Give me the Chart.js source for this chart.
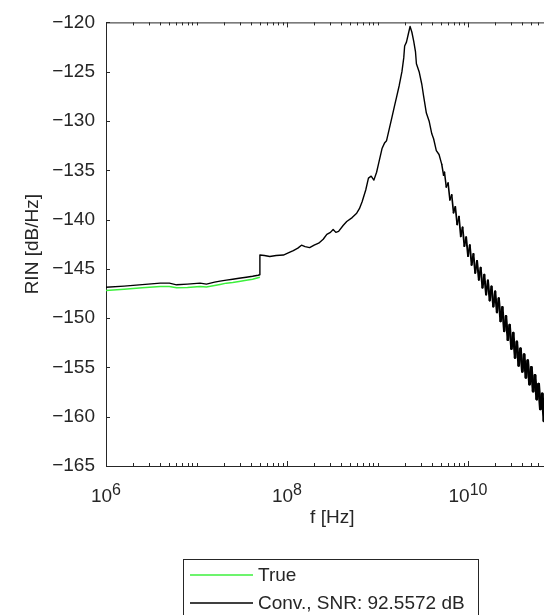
<!DOCTYPE html>
<html>
<head>
<meta charset="utf-8">
<script src="https://cdn.jsdelivr.net/npm/chart.js@4.4.1/dist/chart.umd.min.js"></script>
<style>
  html, body { margin:0; padding:0; background:#fff; overflow:hidden; }
  #wrap { width:600px; height:615px; }
</style>
</head>
<body>
<div id="wrap"><canvas id="rin" width="600" height="615"></canvas></div>
<script>
// frequency given as log10(f / Hz), RIN in dB/Hz
const trueLogF = [6.00, 6.20, 6.40, 6.60, 6.70, 6.78, 6.90, 7.04, 7.11, 7.20, 7.26, 7.33, 7.40, 7.47, 7.55, 7.62, 7.68, 7.70];
const trueRin  = [-147.2, -147.08, -146.92, -146.78, -146.78, -146.92, -146.88, -146.78, -146.85, -146.68, -146.58, -146.45, -146.38, -146.28, -146.15, -146.05, -145.9, -145.85];

const convLogF = [
  6.00, 6.20, 6.40, 6.60, 6.70, 6.78, 6.90, 7.04, 7.11, 7.20, 7.26, 7.33, 7.40, 7.47, 7.55, 7.62, 7.68, 7.70,
  7.7005, 7.75, 7.81, 7.88, 7.96, 8.02, 8.07, 8.12, 8.16, 8.20, 8.25, 8.30, 8.35, 8.40, 8.44, 8.48, 8.51, 8.54,
  8.57, 8.62, 8.66, 8.72, 8.77, 8.80, 8.83, 8.87, 8.90, 8.93, 8.96, 8.99, 9.01, 9.05, 9.08, 9.10, 9.13, 9.16,
  9.19, 9.21, 9.24, 9.27, 9.29, 9.30, 9.32, 9.34, 9.36, 9.38, 9.40, 9.42, 9.43, 9.46, 9.49, 9.51, 9.54, 9.57,
  9.60, 9.62, 9.65, 9.68, 9.71, 9.73,
  9.74, 9.76, 9.78, 9.80, 9.82, 9.84, 9.86, 9.88, 9.90, 9.92, 9.94, 9.96, 9.98, 10.00, 10.02, 10.04, 10.06,
  10.08, 10.10, 10.12, 10.14, 10.16, 10.18, 10.20, 10.22, 10.24, 10.26, 10.28, 10.30, 10.32, 10.34, 10.36,
  10.38, 10.40, 10.42, 10.44, 10.46, 10.48, 10.50, 10.52, 10.54, 10.56, 10.58, 10.60, 10.62, 10.64, 10.66,
  10.68, 10.70, 10.72, 10.74, 10.76, 10.78, 10.80, 10.82, 10.84, 10.86, 10.88, 10.90
];
const convRin = [
  -146.86, -146.75, -146.6, -146.45, -146.45, -146.62, -146.55, -146.45, -146.55, -146.35, -146.25, -146.15, -146.05, -145.95, -145.85, -145.75, -145.65, -145.6,
  -143.6, -143.65, -143.75, -143.65, -143.6, -143.35, -143.15, -142.9, -142.6, -142.75, -142.85, -142.6, -142.4, -142.0, -141.5, -141.3, -141.0, -141.3,
  -141.2, -140.6, -140.2, -139.8, -139.35, -138.9, -138.2, -137.0, -135.8, -135.6, -136.0, -135.2, -134.4, -132.8, -132.2, -132.0, -130.8, -129.6,
  -128.4, -127.6, -126.4, -125.0, -123.6, -122.4, -122.0, -121.2, -120.4, -121.0, -121.9, -123.0, -124.2, -125.0, -126.3, -127.5, -129.2, -130.0,
  -131.3, -131.8, -133.0, -133.4, -134.4, -135.5,
  -135.2, -136.7, -136.3, -138.0, -137.5, -139.3, -138.7, -140.5, -139.7, -141.7, -140.8, -142.7, -141.8, -143.7, -142.6, -144.6, -143.5,
  -145.4, -144.2, -146.1, -144.9, -146.9, -145.6, -147.6, -146.2, -148.2, -146.8, -148.8, -147.3, -149.4, -148.0, -150.3,
  -148.9, -151.3, -149.8, -152.2, -150.7, -153.1, -151.5, -154.0, -152.4, -154.8, -153.1, -155.4, -153.7, -156.0, -154.3,
  -156.7, -155.0, -157.4, -155.8, -158.2, -156.7, -159.2, -157.7, -160.4, -158.8, -161.4, -160.0
];

const yTicks = [-165, -160, -155, -150, -145, -140, -135, -130, -125, -120];
const xLabelExps = [6, 8, 10];
const seriesNames = ['True', 'Conv., SNR: 92.5572 dB'];

const AXIS = '#262626';
const FONT = '"Liberation Sans", Arial, Helvetica, sans-serif';
const GREEN = '#3cf03c';

const toPts = (lf, v) => lf.map((e, i) => ({ x: Math.pow(10, e), y: v[i] }));

// the noisy tail gets a wider pen the further right it goes
function tailWidth(c) {
  const e = Math.log10(c.p0.parsed.x);
  if (e < 9.7) return 1.4;
  return Math.min(3, 1.5 + (e - 9.7) * 1.3);
}

const decor = {
  id: 'decor',
  afterDraw(chart) {
    const { ctx, chartArea: a, scales: { x, y } } = chart;
    ctx.save();
    ctx.strokeStyle = AXIS; ctx.lineWidth = 1;
    ctx.beginPath();
    // box: top and right edges
    ctx.moveTo(a.left, a.top + 0.5); ctx.lineTo(a.right, a.top + 0.5);
    ctx.moveTo(a.right - 0.5, a.top); ctx.lineTo(a.right - 0.5, a.bottom);
    // inner x ticks, top and bottom
    for (let d = 6; d <= 11; d++) {
      for (let k = 1; k <= 9; k++) {
        const v = k * Math.pow(10, d);
        if (v > x.max) break;
        const px = Math.round(x.getPixelForValue(v)) + 0.5;
        const len = (k === 1 && xLabelExps.includes(d)) ? 5 : 3;
        ctx.moveTo(px, a.bottom); ctx.lineTo(px, a.bottom - len);
        ctx.moveTo(px, a.top); ctx.lineTo(px, a.top + len);
      }
    }
    // inner y ticks
    yTicks.forEach(v => {
      const py = Math.round(y.getPixelForValue(v)) + 0.5;
      ctx.moveTo(a.left, py); ctx.lineTo(a.left + 4, py);
    });
    ctx.stroke();

    // x tick labels 10^n
    ctx.fillStyle = AXIS; ctx.textBaseline = 'alphabetic'; ctx.textAlign = 'left';
    xLabelExps.forEach(e => {
      const px = x.getPixelForValue(Math.pow(10, e));
      ctx.font = '19px ' + FONT; const wb = ctx.measureText('10').width;
      ctx.font = '16px ' + FONT; const we = ctx.measureText(String(e)).width;
      const x0 = px - (wb + we) / 2;
      ctx.font = '19px ' + FONT; ctx.fillText('10', x0, a.bottom + 36);
      ctx.font = '16px ' + FONT; ctx.fillText(String(e), x0 + wb, a.bottom + 29);
    });

    // axis titles
    ctx.font = '19px ' + FONT; ctx.textAlign = 'center'; ctx.textBaseline = 'middle';
    ctx.fillText('f [Hz]', (a.left + a.right) / 2, a.bottom + 52);
    ctx.save();
    ctx.translate(33, (a.top + a.bottom) / 2); ctx.rotate(-Math.PI / 2);
    ctx.fillText('RIN [dB/Hz]', 0, 0);
    ctx.restore();

    // legend box
    const lx = 183.5, ly = 559.5, lw = 295, lh = 70;
    ctx.fillStyle = '#fff'; ctx.fillRect(lx, ly, lw, lh);
    ctx.strokeStyle = AXIS; ctx.strokeRect(lx, ly, lw, lh);
    const cols = [GREEN, '#000'];
    seriesNames.forEach((name, i) => {
      const cy = 575 + i * 28;
      ctx.strokeStyle = cols[i]; ctx.lineWidth = 1.5;
      ctx.beginPath(); ctx.moveTo(190, cy); ctx.lineTo(253, cy); ctx.stroke();
      ctx.fillStyle = AXIS; ctx.textAlign = 'left'; ctx.textBaseline = 'middle';
      ctx.font = '19px ' + FONT;
      ctx.fillText(name, 258, cy + 1);
    });
    ctx.restore();
  }
};

new Chart(document.getElementById('rin'), {
  type: 'line',
  data: {
    datasets: [
      { label: seriesNames[0], data: toPts(trueLogF, trueRin), borderColor: GREEN, borderWidth: 1.5, pointRadius: 0, tension: 0 },
      { label: seriesNames[1], data: toPts(convLogF, convRin), borderColor: '#000', borderWidth: 1.4, pointRadius: 0, tension: 0,
        borderJoinStyle: 'round', borderCapStyle: 'round', segment: { borderWidth: tailWidth } }
    ]
  },
  plugins: [decor],
  options: {
    responsive: false, animation: false, devicePixelRatio: 1,
    layout: { padding: { top: 14, right: 41.5, left: 0, bottom: 0 } },
    plugins: { legend: { display: false }, tooltip: { enabled: false } },
    scales: {
      x: {
        type: 'logarithmic', min: 1e6, max: 1e11,
        grid: { display: false, drawTicks: false },
        border: { display: true, color: AXIS, width: 1 },
        ticks: { display: false },
        afterFit: s => { s.height = 149; }
      },
      y: {
        min: -165, max: -120,
        grid: { display: false, drawTicks: false },
        border: { display: true, color: AXIS, width: 1 },
        ticks: { stepSize: 5, padding: 11, color: AXIS, font: { family: FONT, size: 19 },
          callback: v => String(v).replace('-', '\u2212') },
        afterFit: s => { s.width = 106; }
      }
    }
  }
});
</script>
</body>
</html>
